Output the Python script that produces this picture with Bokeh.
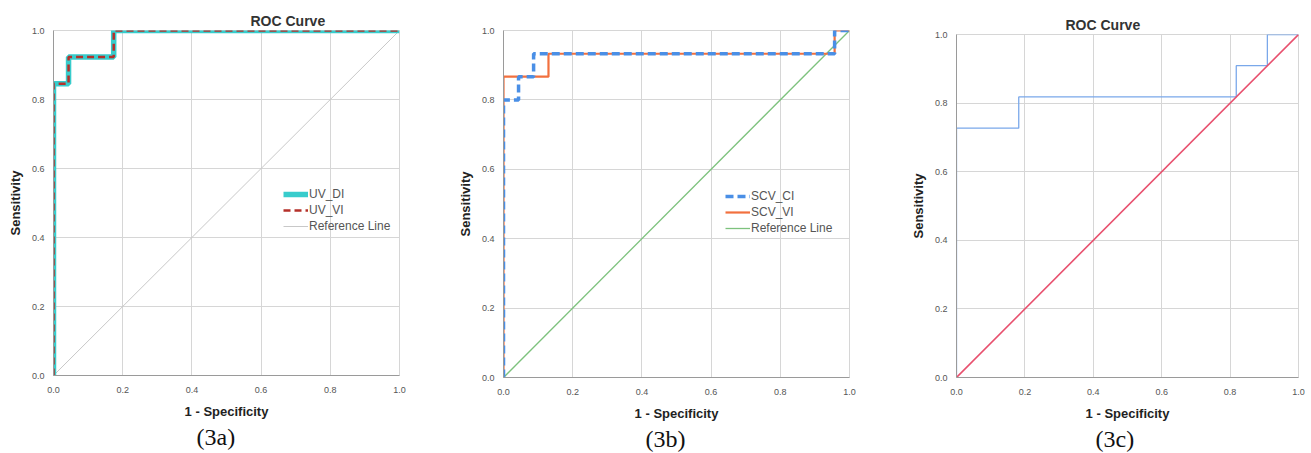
from bokeh.plotting import figure
from bokeh.layouts import row, column
from bokeh.models import Range1d, FixedTicker, PrintfTickFormatter, Legend, LegendItem, Title
from bokeh.embed import file_html
from bokeh.resources import INLINE

# ---- data ----
ticks = [0.0, 0.2, 0.4, 0.6, 0.8, 1.0]
ref_x = [0.0, 1.0]
ref_y = [0.0, 1.0]

uv_di_x = [0.0, 0.0, 0.0435, 0.0435, 0.174, 0.174, 1.0]
uv_di_y = [0.0, 0.846, 0.846, 0.923, 0.923, 1.0, 1.0]
uv_vi_x = [0.0, 0.0, 0.0435, 0.0435, 0.174, 0.174, 1.0]
uv_vi_y = [0.0, 0.846, 0.846, 0.923, 0.923, 1.0, 1.0]

scv_ci_x = [0.0, 0.0, 0.0435, 0.0435, 0.087, 0.087, 0.957, 0.957, 1.0]
scv_ci_y = [0.0, 0.8, 0.8, 0.867, 0.867, 0.933, 0.933, 1.0, 1.0]
scv_vi_x = [0.0, 0.0, 0.13, 0.13, 0.957, 0.957, 1.0]
scv_vi_y = [0.0, 0.867, 0.867, 0.933, 0.933, 1.0, 1.0]

c_x = [0.0, 0.0, 0.182, 0.182, 0.818, 0.818, 0.909, 0.909, 1.0]
c_y = [0.0, 0.727, 0.727, 0.818, 0.818, 0.909, 0.909, 1.0, 1.0]

FONT = "Liberation Sans"


def make_fig(w, left, right, top, bottom, caption, cap_offset, title=None, title_offset=0,
             title_standoff=0):
    p = figure(width=w, height=453,
               min_border_left=left, min_border_right=right,
               min_border_top=top, min_border_bottom=bottom,
               x_range=Range1d(0, 1), y_range=Range1d(0, 1),
               output_backend="svg", toolbar_location=None, title=None)
    if title:
        p.add_layout(Title(text=title, align="left", offset=title_offset,
                           text_font=FONT, text_font_size="14px", text_font_style="bold",
                           text_color="#333333", standoff=title_standoff), "above")
    for ax in (p.xaxis, p.yaxis):
        ax.ticker = FixedTicker(ticks=ticks)
        ax.formatter = PrintfTickFormatter(format="%.1f")
        ax.major_tick_line_color = None
        ax.minor_tick_line_color = None
        ax.major_label_text_font = FONT
        ax.major_label_text_font_size = "9px"
        ax.major_label_text_color = "#555555"
        ax.axis_line_color = "#9a9a9a"
        ax.axis_label_text_font = FONT
        ax.axis_label_text_font_size = "13px"
        ax.axis_label_text_font_style = "bold"
        ax.axis_label_text_color = "#222222"
    p.xaxis.axis_label_standoff = 8
    p.yaxis.axis_label_standoff = 6
    p.xaxis.major_label_standoff = 5
    p.yaxis.major_label_standoff = 3
    p.xaxis.axis_label = "1 - Specificity"
    p.yaxis.axis_label = "Sensitivity"
    p.xgrid.ticker = FixedTicker(ticks=ticks)
    p.ygrid.ticker = FixedTicker(ticks=ticks)
    p.grid.grid_line_color = "#d6d6d6"
    p.outline_line_color = "#d6d6d6"
    p.add_layout(Title(text=caption, align="left", offset=cap_offset,
                       text_font="Liberation Serif", text_font_size="24px",
                       text_font_style="normal", text_color="#111111", standoff=0), "below")
    return p


def make_legend(items, loc):
    return Legend(items=items, location=loc, padding=0, margin=0, spacing=0,
                  label_height=16, glyph_height=16, glyph_width=25, label_standoff=1,
                  border_line_color=None, background_fill_alpha=0,
                  label_text_font=FONT, label_text_font_size="12px",
                  label_text_color="#555555")


# ---- (3a) ----
pa = make_fig(440, 53, 41, 30, 78, "(3a)", 143, "ROC Curve", 197, 3)
ra_ref = pa.line(ref_x, ref_y, line_color="#c8c8c8", line_width=1)
ra_di = pa.line(uv_di_x, uv_di_y, line_color="#38cccc", line_width=5.5)
ra_vi = pa.line(uv_vi_x, uv_vi_y, line_color="#b5302a", line_width=2.5, line_dash="7 4")
pa.add_layout(make_legend([LegendItem(label="UV_DI", renderers=[ra_di]),
                           LegendItem(label="UV_VI", renderers=[ra_vi]),
                           LegendItem(label="Reference Line", renderers=[ra_ref])],
                          (230, 141)))

# ---- (3b) ----
pb = make_fig(450, 63, 41, 30, 76, "(3b)", 142)
rb_ref = pb.line(ref_x, ref_y, line_color="#7dc27d", line_width=1.3)
rb_vi = pb.line(scv_vi_x, scv_vi_y, line_color="#f2703e", line_width=2.2)
rb_ci = pb.line(scv_ci_x, scv_ci_y, line_color="#4a8fe6", line_width=3.5, line_dash="8 4")
pb.add_layout(make_legend([LegendItem(label="SCV_CI", renderers=[rb_ci]),
                           LegendItem(label="SCV_VI", renderers=[rb_vi]),
                           LegendItem(label="Reference Line", renderers=[rb_ref])],
                          (222, 141)))

# ---- (3c) ----
pc = make_fig(421, 66, 13, 34, 76, "(3c)", 139, "ROC Curve", 109, 4)
pc.line(c_x, c_y, line_color="#7aa8ea", line_width=1.3)
pc.line(ref_x, ref_y, line_color="#e8506e", line_width=1.6)

layout = row(column(pa), column(pb), column(pc))
open("out.html", "w").write(file_html(layout, INLINE))
